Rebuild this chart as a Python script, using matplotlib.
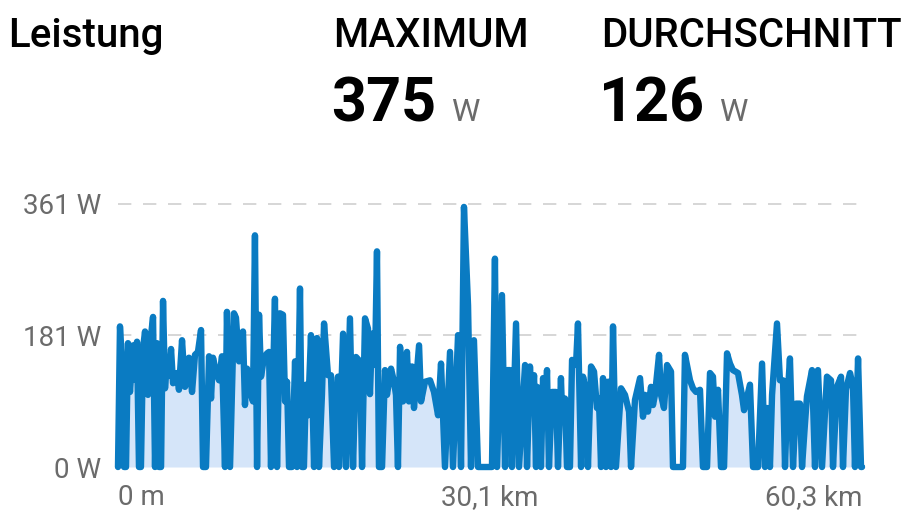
import matplotlib
matplotlib.use("Agg")
import matplotlib.pyplot as plt

plt.rcParams['font.family'] = ['Roboto', 'DejaVu Sans']

# Leistung ueber die Strecke (km, W)
distance_km = [
    0.00, 0.16, 0.41, 0.49, 0.65, 0.81, 0.97, 1.22, 1.38, 1.54,
    1.70, 1.86, 2.03, 2.19, 2.43, 2.59, 2.84, 3.00, 3.16, 3.32,
    3.49, 3.65, 3.81, 3.97, 4.13, 4.30, 4.46, 4.62, 4.78, 4.94,
    5.19, 5.43, 5.59, 5.75, 6.00, 6.24, 6.48, 6.73, 6.89, 7.13,
    7.38, 7.54, 7.70, 7.94, 8.19, 8.43, 8.67, 8.83, 9.08, 9.40,
    9.56, 9.81, 10.13, 10.29, 10.46, 10.78, 10.94, 11.10, 11.27, 11.43,
    11.59, 11.83, 12.08, 12.24, 12.40, 12.72, 12.89, 13.13, 13.37, 13.54,
    13.70, 13.86, 14.10, 14.35, 14.51, 14.75, 14.91, 15.07, 15.24, 15.40,
    15.64, 15.89, 16.13, 16.29, 16.53, 16.70, 17.02, 17.26, 17.51, 17.83,
    17.91, 18.24, 18.48, 18.80, 19.05, 19.29, 19.61, 19.78, 20.02, 20.26,
    20.42, 20.59, 20.83, 20.99, 21.15, 21.40, 21.64, 21.80, 22.13, 22.37,
    22.53, 22.69, 22.86, 23.10, 23.42, 23.58, 23.83, 23.99, 24.40, 24.56,
    24.88, 25.29, 25.61, 25.94, 26.18, 26.50, 26.91, 27.15, 27.56, 27.80,
    28.04, 28.37, 28.61, 28.85, 29.18, 30.31, 30.55, 30.72, 31.12, 31.37,
    31.53, 31.77, 31.93, 32.26, 32.50, 32.99, 33.15, 33.39, 33.55, 33.72,
    33.88, 33.96, 34.12, 34.28, 34.45, 34.61, 34.77, 34.93, 35.17, 35.50,
    35.66, 35.90, 35.99, 36.23, 36.39, 36.63, 36.80, 37.12, 37.28, 37.53,
    37.69, 37.93, 38.09, 38.34, 38.58, 38.82, 38.98, 39.15, 39.31, 39.55,
    39.71, 39.88, 39.96, 40.12, 40.36, 40.77, 41.09, 41.42, 41.58, 41.90,
    42.31, 42.55, 42.71, 42.95, 43.20, 43.36, 43.52, 43.85, 44.01, 44.25,
    44.50, 44.82, 44.98, 45.79, 45.95, 46.36, 46.60, 46.85, 47.17, 47.41,
    47.74, 47.98, 48.22, 48.39, 48.63, 48.87, 49.12, 49.36, 49.60, 49.84,
    50.25, 50.57, 50.74, 51.22, 51.47, 51.87, 52.20, 52.44, 52.60, 52.84,
    53.01, 53.41, 53.65, 53.90, 54.06, 54.22, 54.46, 54.71, 54.95, 55.27,
    55.44, 55.68, 55.84, 56.25, 56.49, 56.73, 57.06, 57.46, 57.79, 57.95,
    58.27, 58.60, 58.76, 59.00, 59.33, 59.57, 59.73, 59.98, 60.22, 60.30,
]
power_w = [
    0, 193, 120, 0, 0, 170, 103, 167, 120, 172,
    0, 0, 163, 186, 99, 167, 206, 0, 170, 0,
    0, 228, 108, 145, 125, 162, 115, 128, 129, 106,
    174, 110, 120, 150, 103, 154, 158, 188, 0, 0,
    152, 94, 150, 131, 119, 152, 0, 213, 0, 211,
    205, 145, 186, 85, 135, 99, 90, 318, 0, 209,
    124, 150, 156, 158, 0, 231, 0, 211, 209, 90,
    117, 0, 0, 145, 0, 245, 0, 0, 113, 71,
    181, 0, 177, 0, 99, 197, 126, 126, 0, 124,
    0, 183, 0, 204, 0, 151, 145, 0, 204, 190,
    100, 183, 140, 296, 0, 0, 133, 99, 135, 117,
    99, 0, 165, 90, 158, 90, 138, 81, 167, 90,
    117, 119, 103, 71, 142, 0, 158, 0, 181, 0,
    357, 222, 0, 174, 0, 0, 286, 0, 236, 0,
    133, 133, 0, 197, 0, 140, 0, 138, 81, 126,
    0, 110, 108, 0, 122, 62, 133, 0, 103, 103,
    0, 122, 76, 94, 0, 0, 147, 140, 197, 0,
    124, 103, 0, 138, 131, 81, 94, 0, 122, 0,
    117, 117, 0, 193, 0, 108, 99, 76, 0, 92,
    122, 69, 99, 76, 110, 85, 99, 154, 99, 81,
    140, 131, 0, 0, 154, 119, 108, 103, 106, 0,
    0, 129, 124, 69, 106, 0, 0, 156, 142, 133,
    129, 99, 78, 113, 0, 0, 142, 0, 81, 0,
    99, 197, 119, 119, 0, 83, 149, 0, 87, 87,
    0, 60, 97, 133, 0, 133, 0, 124, 119, 0,
    110, 124, 0, 106, 129, 110, 0, 149, 0, 0,
]

y_ticks = [0, 181, 361]
y_labels = ["0 W", "181 W", "361 W"]
x_ticks = [0, 30.15, 60.3]
x_labels = ["0 m", "30,1 km", "60,3 km"]

line_color = "#0a7bc2"
fill_color = "#d5e5f9"
grey = "#6b6b6b"

W, H = 918, 520
fig = plt.figure(figsize=(W / 100, H / 100), dpi=100)
fig.patch.set_facecolor("white")

# Kopfzeile
head = dict(fontsize=29, fontweight="medium", color="black", va="baseline")
fig.text(8 / W, 1 - 47 / H, "Leistung", **head)
fig.text(333 / W, 1 - 47 / H, "MAXIMUM", **head)
fig.text(601 / W, 1 - 47 / H, "DURCHSCHNITT", **head)
fig.text(331 / W, 1 - 122 / H, "375", fontsize=44, fontweight="bold", color="black", va="baseline")
fig.text(451 / W, 1 - 121 / H, "W", fontsize=23, color=grey, va="baseline")
fig.text(599 / W, 1 - 122 / H, "126", fontsize=44, fontweight="bold", color="black", va="baseline")
fig.text(719 / W, 1 - 121 / H, "W", fontsize=23, color=grey, va="baseline")

ax = fig.add_axes([118 / W, 53 / H, 744 / W, 263 / H])
ax.set_xlim(0, 60.3)
ax.set_ylim(0, 361)
for s in ax.spines.values():
    s.set_visible(False)

# Gitter
for v in y_ticks[1:]:
    ax.axhline(v, color="#d0d0d0", lw=1.2, linestyle=(0, (8, 7)), zorder=1, clip_on=False)
ax.axhline(0, color="#dcdcdc", lw=1.5, zorder=1)

ax.fill_between(distance_km, power_w, 0, color=fill_color, lw=0, zorder=2)
ax.plot(distance_km, power_w, color=line_color, lw=4.6, solid_joinstyle="round",
        solid_capstyle="round", zorder=3, clip_on=False)

ax.set_yticks(y_ticks)
ax.set_yticklabels(y_labels)
ax.set_xticks(x_ticks)
ax.set_xticklabels(x_labels)
ax.tick_params(axis="both", length=0, labelsize=20, labelcolor=grey)
ax.tick_params(axis="y", pad=12)
ax.tick_params(axis="x", pad=12)
xl = ax.get_xticklabels()
xl[0].set_ha("left")
xl[-1].set_ha("right")

fig.savefig("out.png", dpi=100, facecolor="white")
